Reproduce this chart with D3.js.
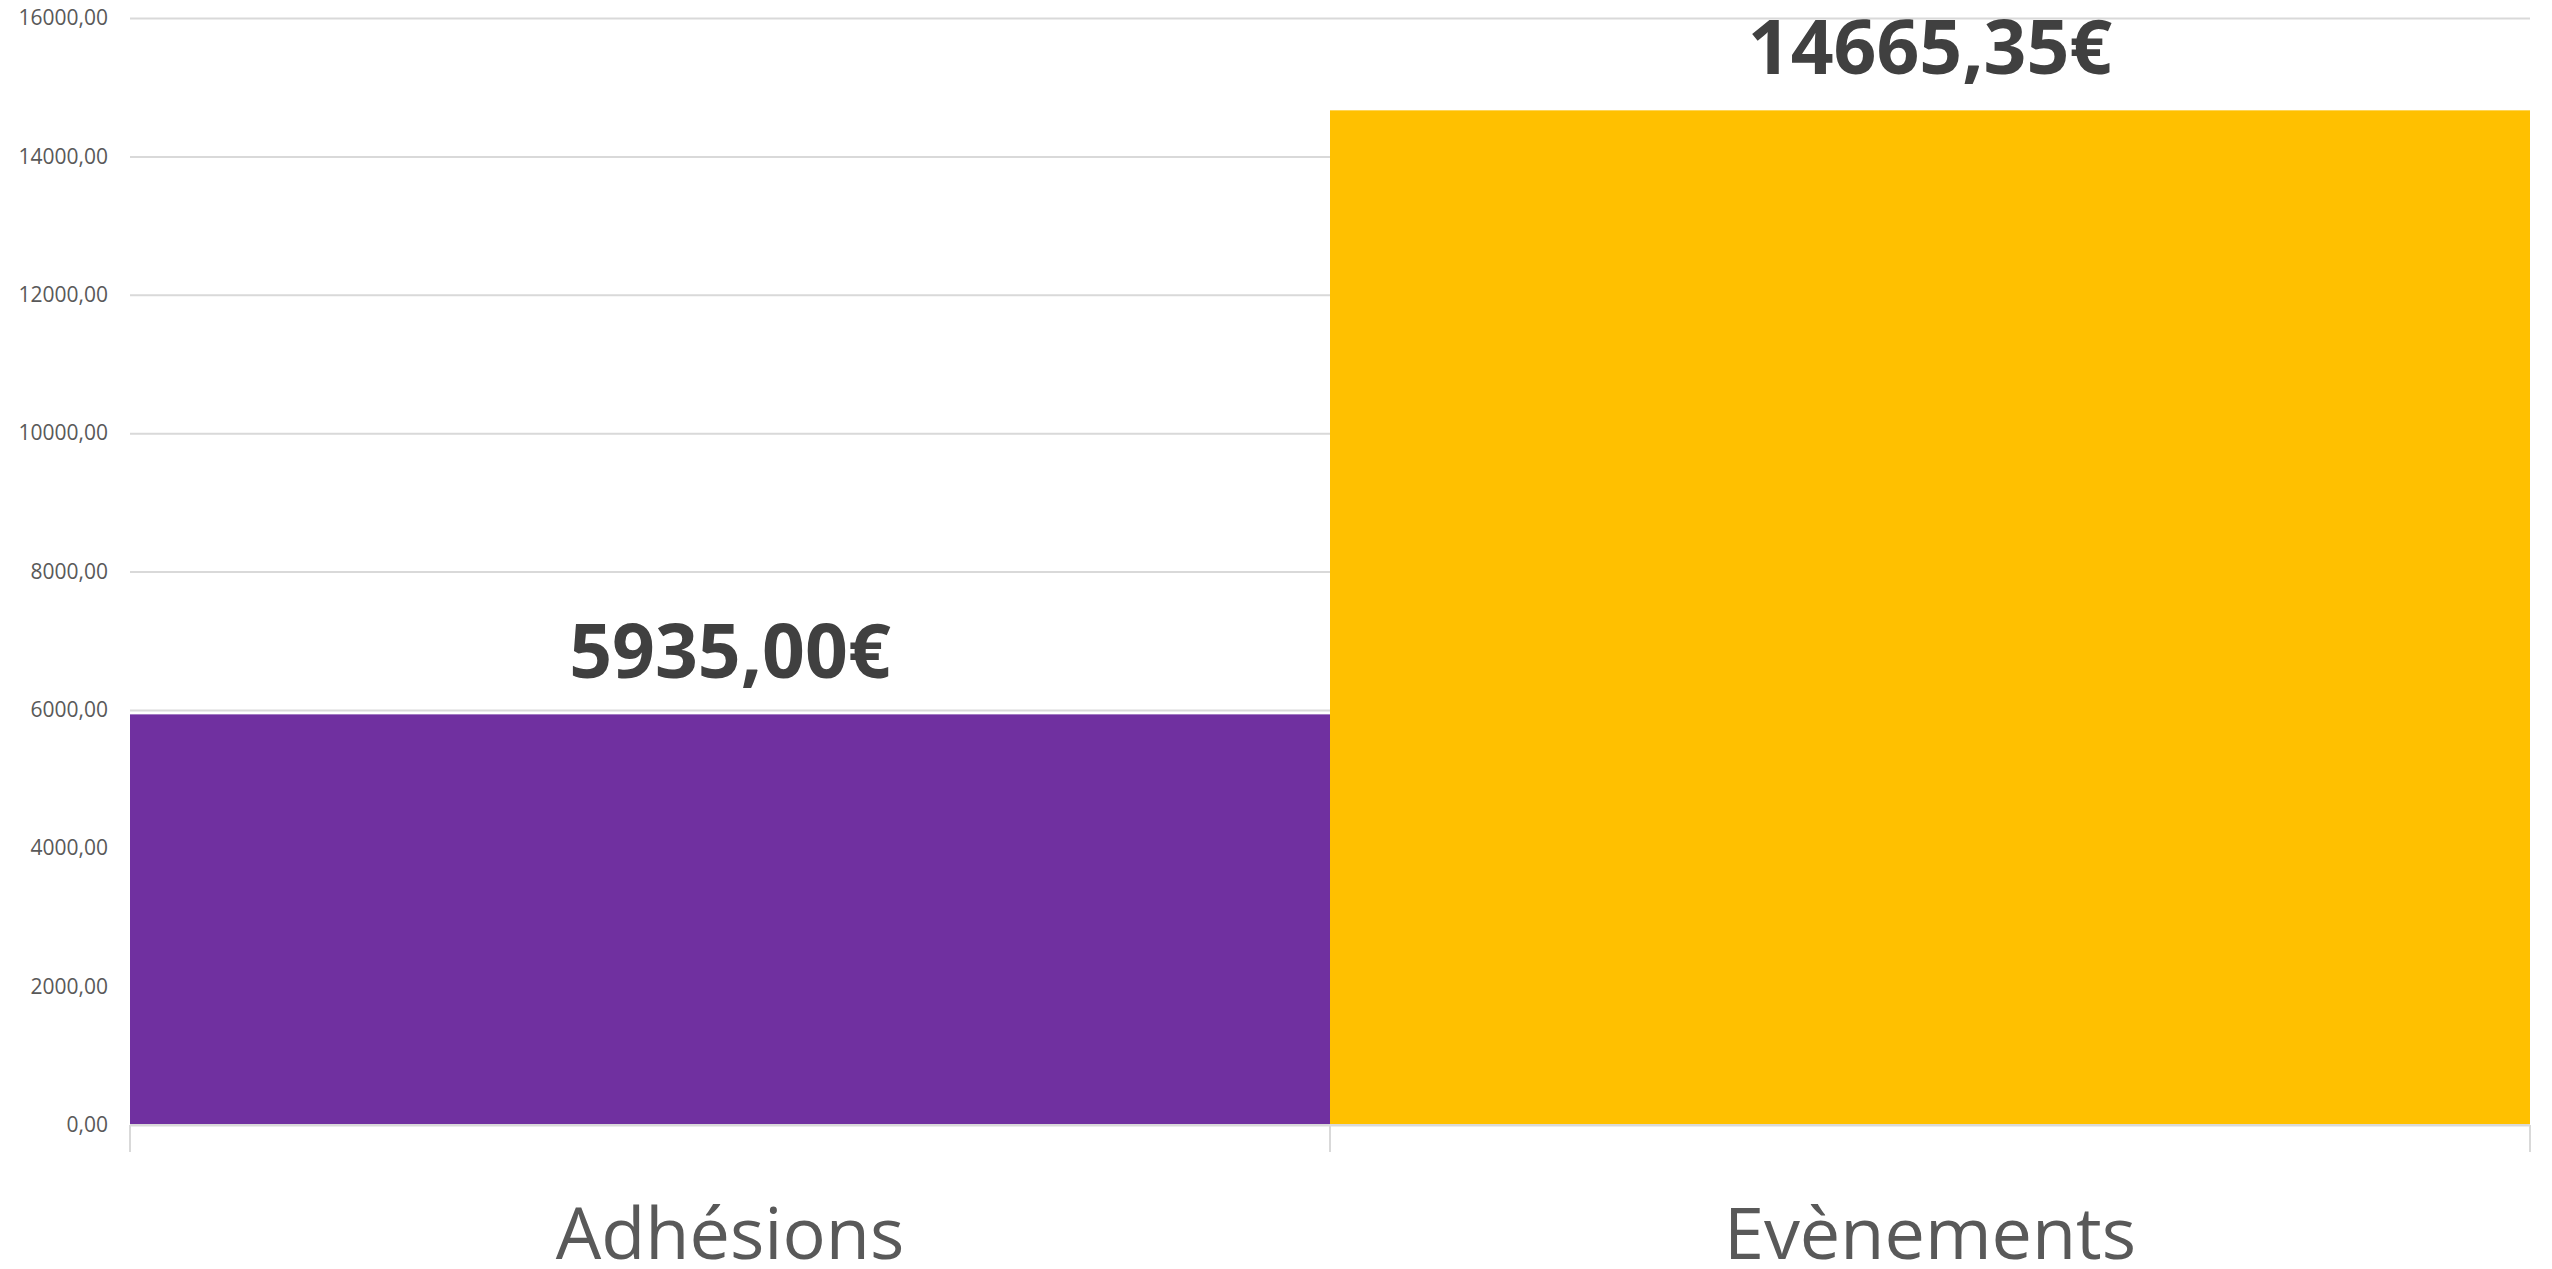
<!DOCTYPE html>
<html>
<head>
<meta charset="utf-8">
<script src="https://cdn.jsdelivr.net/npm/d3@7"></script>
<style>
  html, body { margin: 0; padding: 0; background: #fff; }
  svg { display: block; }
</style>
</head>
<body>
<svg></svg>
<script>
const width = 2552
const height = 1269

const categories = ['Adhésions', 'Evènements']
const values = [5935.00, 14665.35]
const colors = ['#7030A0', '#FFC000']
const yTicks = [0, 2000, 4000, 6000, 8000, 10000, 12000, 14000, 16000]

const margin = { left: 130, right: 22, top: 18, bottom: 144 }
const fontFamily = '"Open Sans", sans-serif'

const svg = d3.select('svg')
    .attr('width', width)
    .attr('height', height)
    .style('font-family', fontFamily)

const x = d3.scaleBand()
    .domain(categories)
    .range([margin.left, width - margin.right])
    .padding(0)

const y = d3.scaleLinear()
    .domain([0, 16000])
    .range([height - margin.bottom, margin.top])

const fmt = v => d3.format('.2f')(v).replace('.', ',')

// gridlines + y labels
const yAxis = svg.append('g')
    .attr('transform', `translate(${margin.left},0)`)
    .call(d3.axisLeft(y)
        .tickValues(yTicks)
        .tickSize(-(width - margin.left - margin.right))
        .tickPadding(22)
        .tickFormat(fmt))
    .attr('font-family', fontFamily)
yAxis.select('.domain').remove()
yAxis.selectAll('.tick line')
    .attr('stroke', '#d9d9d9')
    .attr('stroke-width', 2)
yAxis.selectAll('.tick text')
    .attr('fill', '#595959')
    .attr('font-size', 21)

// bars
svg.append('g')
    .selectAll('rect')
    .data(values)
    .enter()
    .append('rect')
    .attr('x', (d, i) => x(categories[i]))
    .attr('width', x.bandwidth())
    .attr('y', d => y(d))
    .attr('height', d => y(0) - y(d))
    .attr('fill', (d, i) => colors[i])

// value labels
svg.append('g')
    .selectAll('text')
    .data(values)
    .enter()
    .append('text')
    .attr('x', (d, i) => x(categories[i]) + x.bandwidth() / 2)
    .attr('y', d => y(d) - 36)
    .attr('text-anchor', 'middle')
    .attr('font-size', 75)
    .attr('font-weight', 'bold')
    .attr('fill', '#404040')
    .text(d => fmt(d) + '€')

// x axis: baseline and category separators
const xAxis = svg.append('g')
    .attr('transform', `translate(0,${y(0)})`)
xAxis.append('line')
    .attr('x1', margin.left)
    .attr('x2', width - margin.right)
    .attr('stroke', '#d9d9d9')
    .attr('stroke-width', 2)
const bounds = categories.map(c => x(c)).concat([x(categories[categories.length - 1]) + x.bandwidth()])
xAxis.selectAll('.sep')
    .data(bounds)
    .enter()
    .append('line')
    .attr('x1', d => d)
    .attr('x2', d => d)
    .attr('y1', 0)
    .attr('y2', 27)
    .attr('stroke', '#d9d9d9')
    .attr('stroke-width', 2)
xAxis.selectAll('.cat')
    .data(categories)
    .enter()
    .append('text')
    .attr('x', d => x(d) + x.bandwidth() / 2)
    .attr('y', 134)
    .attr('text-anchor', 'middle')
    .attr('font-size', 72)
    .attr('fill', '#595959')
    .text(d => d)
</script>
</body>
</html>
